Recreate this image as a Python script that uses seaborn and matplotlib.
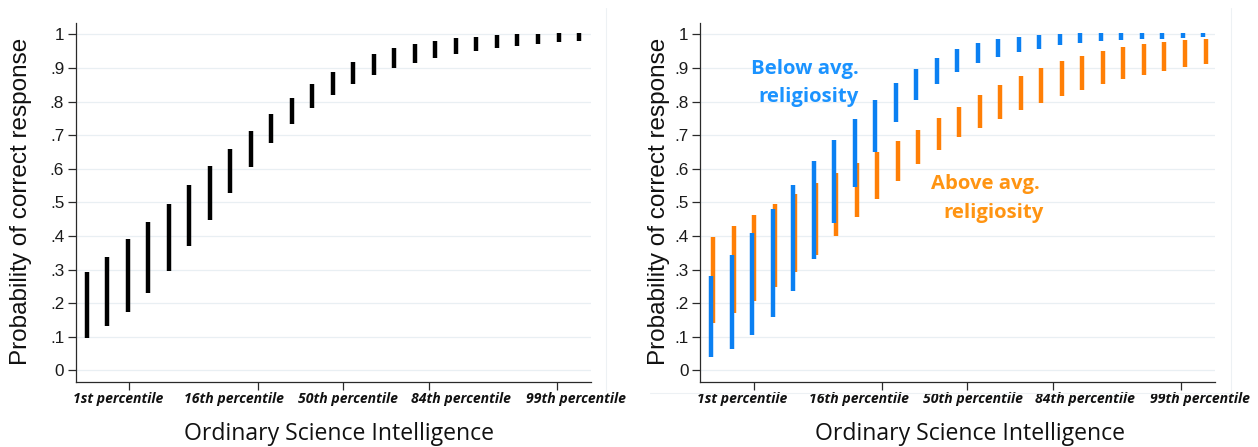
import numpy as np
import pandas as pd
import matplotlib
matplotlib.use("Agg")
import matplotlib.pyplot as plt
from matplotlib.lines import Line2D
import seaborn as sns

# Ordinary Science Intelligence (z-score) at which predictions are evaluated
osi_z = [-3.00, -2.76, -2.52, -2.28, -2.04, -1.80, -1.56, -1.32, -1.08, -0.84,
         -0.60, -0.36, -0.12, 0.12, 0.36, 0.60, 0.84, 1.08, 1.32, 1.56,
         1.80, 2.04, 2.28, 2.52, 2.76]

# Whole sample: 95% CI of predicted probability of correct response
all_lo = [0.095, 0.131, 0.175, 0.229, 0.295, 0.369, 0.446, 0.528, 0.606, 0.676,
          0.733, 0.782, 0.820, 0.853, 0.879, 0.899, 0.916, 0.931, 0.942, 0.950,
          0.958, 0.965, 0.971, 0.976, 0.979]
all_hi = [0.292, 0.338, 0.390, 0.440, 0.495, 0.552, 0.607, 0.660, 0.713, 0.764,
          0.810, 0.851, 0.889, 0.918, 0.940, 0.958, 0.972, 0.980, 0.988, 0.993,
          0.998, 1.001, 1.002, 1.003, 1.003]

# Below average religiosity
below_lo = [0.041, 0.064, 0.105, 0.160, 0.235, 0.330, 0.437, 0.546, 0.650, 0.738,
            0.805, 0.852, 0.888, 0.914, 0.932, 0.947, 0.957, 0.967, 0.973, 0.979,
            0.982, 0.985, 0.987, 0.988, 0.991]
below_hi = [0.281, 0.343, 0.409, 0.479, 0.551, 0.622, 0.685, 0.749, 0.804, 0.854,
            0.896, 0.930, 0.955, 0.973, 0.985, 0.993, 0.998, 1.001, 1.003, 1.004,
            1.005, 1.005, 1.005, 1.005, 1.005]

# Above average religiosity
above_lo = [0.140, 0.172, 0.207, 0.249, 0.294, 0.343, 0.399, 0.455, 0.510, 0.563,
            0.614, 0.657, 0.693, 0.722, 0.749, 0.774, 0.797, 0.815, 0.834, 0.851,
            0.866, 0.880, 0.892, 0.902, 0.912]
above_hi = [0.397, 0.430, 0.461, 0.494, 0.525, 0.559, 0.587, 0.618, 0.650, 0.683,
            0.715, 0.750, 0.785, 0.818, 0.848, 0.876, 0.899, 0.920, 0.936, 0.950,
            0.961, 0.970, 0.977, 0.983, 0.987]

pct_ticks = [-2.5, -1.0, 0.0, 1.0, 2.5]
pct_label_x = [-2.635, -1.275, 0.06, 1.38, 2.72]
pct_labels = ["1st percentile", "16th percentile", "50th percentile",
              "84th percentile", "99th percentile"]
y_ticks = [0, 0.1, 0.2, 0.3, 0.4, 0.5, 0.6, 0.7, 0.8, 0.9, 1.0]
y_ticklabels = ["0", ".1", ".2", ".3", ".4", ".5", ".6", ".7", ".8", ".9", "1"]

BLUE = "#0b80f2"
ORANGE = "#ff7f06"
BLUE_TXT = "#1b93ff"
ORANGE_TXT = "#ff9412"
GRID = "#e9eff3"
AXIS = "#2a2a2a"

sns.set_theme(style="white")
plt.rcParams["font.family"] = ["Liberation Sans", "DejaVu Sans"]

df_all = pd.DataFrame({"osi": osi_z, "lo": all_lo, "hi": all_hi})
df_rel = pd.concat([
    pd.DataFrame({"osi": osi_z, "lo": below_lo, "hi": below_hi, "group": "below"}),
    pd.DataFrame({"osi": np.array(osi_z) + 0.025, "lo": above_lo, "hi": above_hi,
                  "group": "above"}),
])

fig = plt.figure(figsize=(12.58, 4.47), dpi=100)
ax1 = fig.add_axes([0.0604, 0.146, 0.4094, 0.802])
ax2 = fig.add_axes([0.5567, 0.146, 0.4094, 0.802])


def style_axes(ax, ylab_x):
    ax.set_xlim(-3.125, 2.90)
    ax.set_ylim(-0.034, 1.033)
    ax.set_yticks(y_ticks)
    ax.set_yticklabels(y_ticklabels, fontsize=12.3, color="#1a1a1a")
    for y in y_ticks:
        ax.axhline(y, color=GRID, lw=0.9, zorder=0)
    ax.set_xticks(pct_ticks)
    ax.set_xticklabels([])
    for xl, lab in zip(pct_label_x, pct_labels):
        ax.text(xl, -0.048, lab, transform=ax.get_xaxis_transform(),
                ha="center", va="center", fontsize=10.1, fontweight="bold",
                fontstyle="italic", family="Open Sans", color="#111111")
    ax.tick_params(axis="both", direction="out", length=5.5, width=0.9,
                   color=AXIS, pad=3, left=True, bottom=True)
    sns.despine(ax=ax)
    for s in ("left", "bottom"):
        ax.spines[s].set_color(AXIS)
        ax.spines[s].set_linewidth(0.9)
    ax.set_ylabel("Probability of correct response", fontsize=17.5, color="#111111")
    ax.yaxis.label.set_va("center")
    ax.yaxis.set_label_coords(ylab_x, 0.503)
    ax.set_xlabel("Ordinary Science Intelligence", fontsize=16.6,
                  family="Open Sans", color="#111111")


style_axes(ax1, -0.107)
style_axes(ax2, -0.081)
ax1.xaxis.set_label_coords(0.51, -0.112)
ax2.xaxis.set_label_coords(0.524, -0.112)

# Left: whole sample
ax1.vlines(df_all["osi"], df_all["lo"], df_all["hi"], color="black",
           lw=3.2, zorder=3)

# Right: split by religiosity (orange behind blue)
ab = df_rel[df_rel["group"] == "above"]
be = df_rel[df_rel["group"] == "below"]
ax2.vlines(ab["osi"], ab["lo"], ab["hi"], color=ORANGE, lw=3.2, zorder=3)
ax2.vlines(be["osi"], be["lo"], be["hi"], color=BLUE, lw=3.2, zorder=4)

ax2.text(-1.90, 0.897, "Below avg.", ha="center", va="center", fontsize=14.6,
         fontweight="bold", family="Open Sans", color=BLUE_TXT)
ax2.text(-1.86, 0.812, "religiosity", ha="center", va="center", fontsize=14.6,
         fontweight="bold", family="Open Sans", color=BLUE_TXT)
ax2.text(0.21, 0.554, "Above avg.", ha="center", va="center", fontsize=14.6,
         fontweight="bold", family="Open Sans", color=ORANGE_TXT)
ax2.text(0.30, 0.469, "religiosity", ha="center", va="center", fontsize=14.6,
         fontweight="bold", family="Open Sans", color=ORANGE_TXT)

# faint graph-region borders
for xs, ys in [([0.4814, 0.4814], [0.125, 0.982]),
               ([0.9785, 0.9785], [0.121, 0.982]),
               ([0.5167, 0.9785], [0.121, 0.121])]:
    fig.add_artist(Line2D(xs, ys, transform=fig.transFigure, color="#edf1f4", lw=0.8))

fig.savefig("out.png", dpi=100)
